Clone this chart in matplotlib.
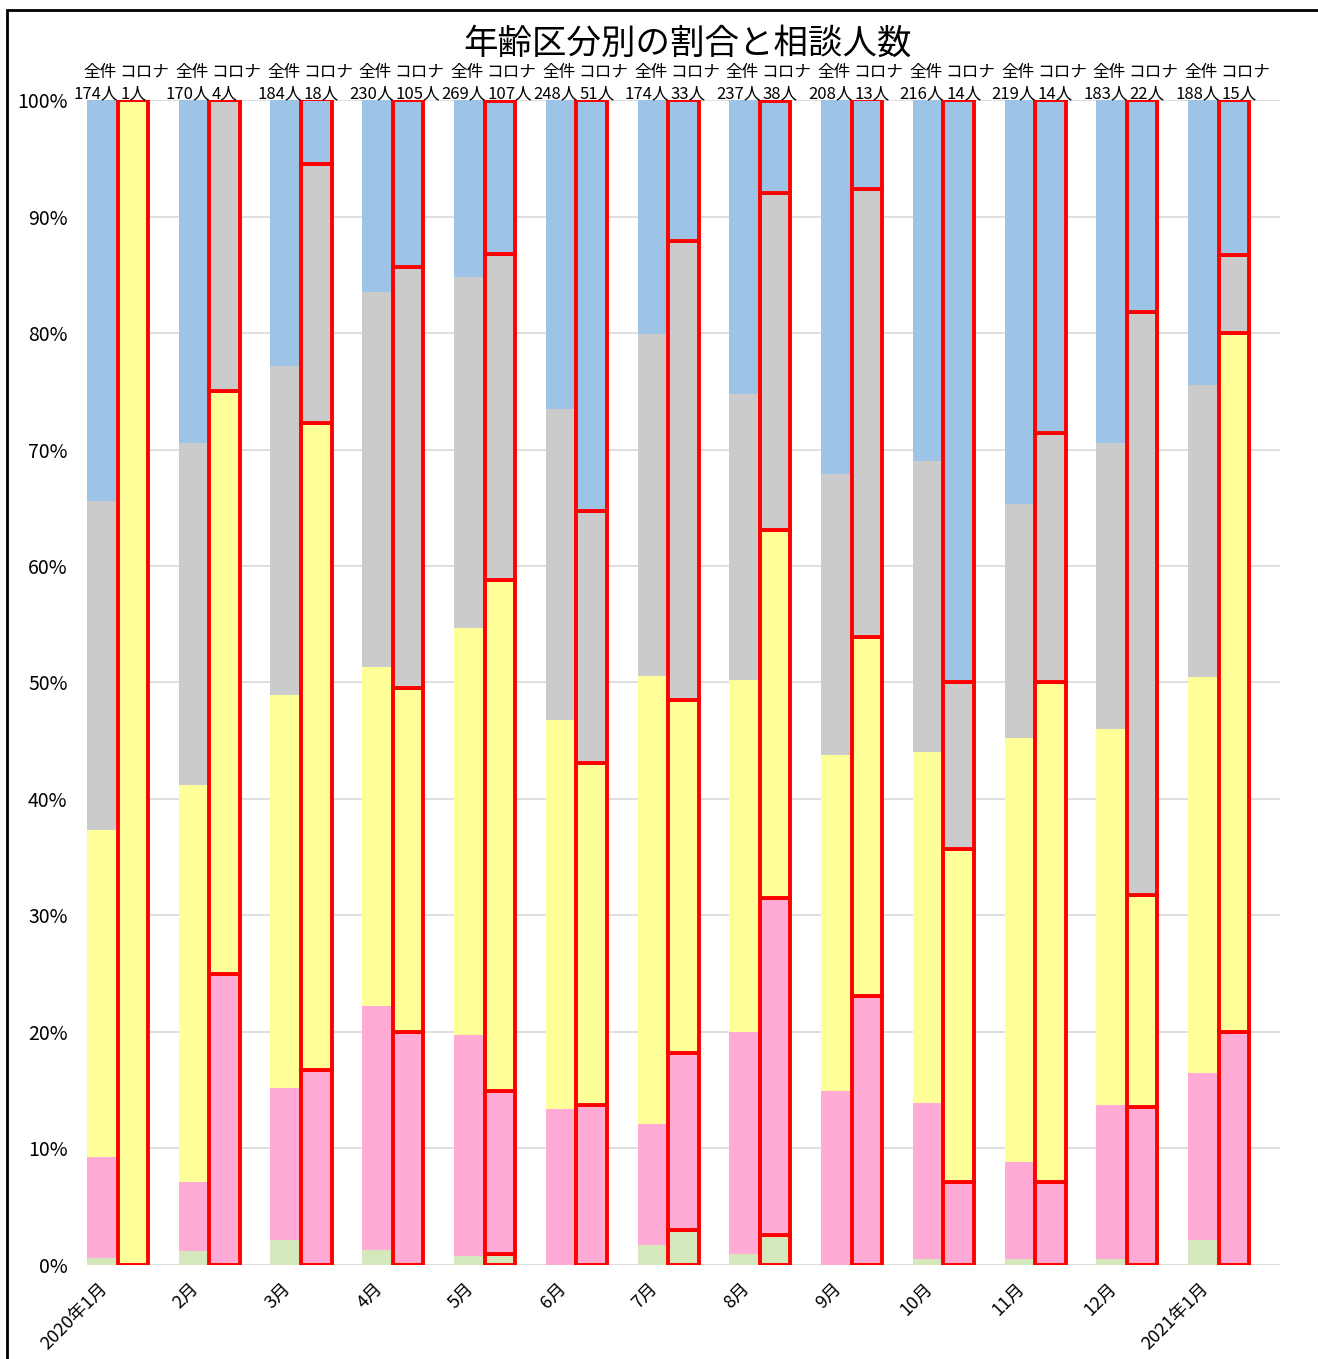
import matplotlib.pyplot as plt
from matplotlib.patches import Rectangle
import numpy as np

plt.rcParams['font.family'] = ['Noto Sans CJK JP', 'DejaVu Sans']

months = ['2020年1月', '2月', '3月', '4月', '5月', '6月', '7月', '8月',
          '9月', '10月', '11月', '12月', '2021年1月']
total_n = [174, 170, 184, 230, 269, 248, 174, 237, 208, 216, 219, 183, 188]
corona_n = [1, 4, 18, 105, 107, 51, 33, 38, 13, 14, 14, 22, 15]

# share of each age band (%), bottom layer first -- all consultations
all_green = [0.6, 1.2, 2.1, 1.3, 0.8, 0.0, 1.7, 0.9, 0.0, 0.5, 0.5, 0.5, 2.1]
all_pink = [8.7, 5.9, 13.1, 20.9, 18.9, 13.4, 10.4, 19.1, 14.9, 13.4, 8.3, 13.2, 14.4]
all_yellow = [28.0, 34.1, 33.7, 29.1, 35.0, 33.4, 38.5, 30.2, 28.9, 30.1, 36.4, 32.3, 34.0]
all_gray = [28.3, 29.4, 28.3, 32.2, 30.1, 26.7, 29.3, 24.6, 24.1, 25.0, 20.1, 24.6, 25.0]
all_blue = [34.4, 29.4, 22.8, 16.5, 15.2, 26.5, 20.1, 25.2, 32.1, 31.0, 34.7, 29.4, 24.5]

# corona-related consultations
cor_green = [0.0, 0.0, 0.0, 0.0, 0.9, 0.0, 3.0, 2.6, 0.0, 0.0, 0.0, 0.0, 0.0]
cor_pink = [0.0, 25.0, 16.7, 20.0, 14.0, 13.7, 15.2, 28.9, 23.1, 7.1, 7.1, 13.6, 20.0]
cor_yellow = [100.0, 50.0, 55.6, 29.5, 43.9, 29.4, 30.3, 31.6, 30.8, 28.6, 42.9, 18.2, 60.0]
cor_gray = [0.0, 25.0, 22.2, 36.2, 28.0, 21.6, 39.4, 28.9, 38.5, 14.3, 21.4, 50.0, 6.7]
cor_blue = [0.0, 0.0, 5.6, 14.3, 13.1, 35.3, 12.1, 7.9, 7.7, 50.0, 28.6, 18.2, 13.3]

colors = ['#D5E8BC', '#FFABD5', '#FFFF99', '#CBCBCB', '#9DC3E6']

fig = plt.figure(figsize=(13.18, 13.59), dpi=100)
ax = fig.add_axes([0.066, 0.0692, 0.905, 0.8572])

x = np.arange(len(months))
w = 1 / 3

bottom = np.zeros(len(months))
for vals, c in zip([all_green, all_pink, all_yellow, all_gray, all_blue], colors):
    ax.bar(x, vals, width=w, bottom=bottom, align='edge', color=c, linewidth=0, zorder=2)
    bottom += np.array(vals)

bottom = np.zeros(len(months))
for vals, c in zip([cor_green, cor_pink, cor_yellow, cor_gray, cor_blue], colors):
    ax.bar(x + w, vals, width=w, bottom=bottom, align='edge', color=c,
           edgecolor='#FF0000', linewidth=2.8, zorder=3)
    bottom += np.array(vals)

# header labels above each pair of bars
for i in range(len(months)):
    mid = x[i] + w
    ax.text(mid - 0.01, 102.4, '全件', ha='right', va='center', fontsize=12)
    ax.text(mid + 0.02, 102.4, 'コロナ', ha='left', va='center', fontsize=12)
    ax.text(mid + 0.01, 100.5, f'{total_n[i]}人', ha='right', va='center', fontsize=12)
    ax.text(mid + 0.03, 100.5, f'{corona_n[i]}人', ha='left', va='center', fontsize=12)

ax.set_xlim(0, 13)
ax.set_ylim(0, 100)
ax.set_yticks(np.arange(0, 101, 10))
ax.set_yticklabels([f'{v}%' for v in range(0, 101, 10)], fontsize=14)
ax.set_xticks(x + 0.19)
ax.set_xticklabels(months, rotation=45, ha='right', va='center',
                   rotation_mode='anchor', fontsize=13)
ax.tick_params(axis='both', length=0)
ax.tick_params(axis='x', pad=15)
ax.tick_params(axis='y', pad=14)
ax.grid(axis='y', color='#D9D9D9', linewidth=1.2, zorder=0)
ax.set_axisbelow(True)
for s in ax.spines.values():
    s.set_visible(False)

fig.text(0.522, 1 - 44 / 1359, '年齢区分別の割合と相談人数', ha='center', va='center', fontsize=24.8)

fig.add_artist(Rectangle((7 / 1318, -0.1), 1.2, 1.1 - 10 / 1359, transform=fig.transFigure,
                         fill=False, edgecolor='black', linewidth=2))

fig.savefig('out.png', dpi=100)
